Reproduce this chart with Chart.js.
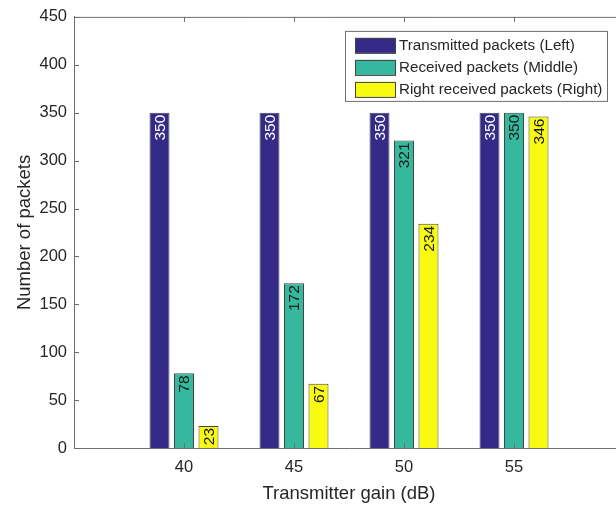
<!DOCTYPE html>
<html lang="en">
<head>
  <meta charset="UTF-8">
  <title>Packets vs transmitter gain</title>
  <script src="https://cdn.jsdelivr.net/npm/chart.js"></script>
  <style>
    html, body {
      margin: 0;
      padding: 0;
      background: #ffffff;
      overflow: hidden;
    }

    /* a bit wider than the window: the right edge of the axes is cut off like in the picture */
    .wrap {
      position: relative;
      width: 624px;
      height: 505px;
    }
  </style>
</head>
<body>

  <div class="wrap">
    <canvas id="packetChart"></canvas>
  </div>

  <script>
    // data
    const gains = [40, 45, 50, 55];
    const transmitted = [350, 350, 350, 350];
    const received = [78, 172, 321, 350];
    const rightReceived = [23, 67, 234, 346];
    const yTicks = [0, 50, 100, 150, 200, 250, 300, 350, 400, 450];

    const seriesNames = ["Transmitted packets (Left)", "Received packets (Middle)", "Right received packets (Right)"];
    const seriesColors = ["#352a87", "#35b89d", "#f8fa0f"];
    const labelColors = ["#ffffff", "#1a1a1a", "#1a1a1a"];

    const txt = "#262626";
    const axisCol = "#6e6e6e";
    const fontFam = "'Liberation Sans', Arial, sans-serif";

    const toPoints = (arr) => arr.map((v, i) => ({ x: gains[i], y: v }));

    // inward tick marks + box top line, matlab style
    const boxTicks = {
      id: "boxTicks",
      afterDraw(chart) {
        const { ctx, chartArea: a, scales } = chart;
        ctx.save();
        ctx.strokeStyle = axisCol;
        ctx.lineWidth = 1;
        ctx.beginPath();
        ctx.moveTo(a.left, a.top + 0.5);
        ctx.lineTo(a.right, a.top + 0.5);
        ctx.moveTo(a.right - 0.5, a.top);
        ctx.lineTo(a.right - 0.5, a.bottom);
        scales.y.ticks.forEach(t => {
          const y = Math.round(scales.y.getPixelForValue(t.value)) + 0.5;
          ctx.moveTo(a.left, y);
          ctx.lineTo(a.left + 5, y);
          ctx.moveTo(a.right, y);
          ctx.lineTo(a.right - 5, y);
        });
        scales.x.ticks.forEach(t => {
          const x = Math.round(scales.x.getPixelForValue(t.value)) + 0.5;
          ctx.moveTo(x, a.bottom);
          ctx.lineTo(x, a.bottom - 5);
          ctx.moveTo(x, a.top);
          ctx.lineTo(x, a.top + 5);
        });
        ctx.stroke();
        ctx.restore();
      }
    };

    // rotated value labels at the top of each bar
    const barValues = {
      id: "barValues",
      afterDatasetsDraw(chart) {
        const { ctx } = chart;
        ctx.save();
        ctx.font = "15.5px " + fontFam;
        ctx.textAlign = "right";
        ctx.textBaseline = "middle";
        chart.data.datasets.forEach((ds, di) => {
          const meta = chart.getDatasetMeta(di);
          ctx.fillStyle = labelColors[di];
          meta.data.forEach((bar, i) => {
            ctx.save();
            ctx.translate(bar.x, bar.y + 2);
            ctx.rotate(-Math.PI / 2);
            ctx.fillText(String(ds.data[i].y), 0, 1);
            ctx.restore();
          });
        });
        ctx.restore();
      }
    };

    // boxed legend in the top right corner
    const boxLegend = {
      id: "boxLegend",
      afterDraw(chart) {
        const { ctx, chartArea: a } = chart;
        const w = 262, rowH = 22;
        const x0 = a.right - 17 - w, y0 = a.top + 14;
        ctx.save();
        ctx.fillStyle = "#ffffff";
        ctx.fillRect(x0, y0, w, rowH * seriesNames.length + 4);
        ctx.strokeStyle = axisCol;
        ctx.lineWidth = 1;
        ctx.strokeRect(x0 + 0.5, y0 + 0.5, w, rowH * seriesNames.length + 4);
        ctx.font = "15.2px " + fontFam;
        ctx.textBaseline = "middle";
        chart.data.datasets.forEach((ds, i) => {
          const cy = y0 + 3 + rowH * i + rowH / 2;
          ctx.fillStyle = ds.backgroundColor;
          ctx.fillRect(x0 + 10, cy - 7, 40, 15);
          ctx.strokeStyle = "#444";
          ctx.strokeRect(x0 + 10.5, cy - 6.5, 40, 15);
          ctx.fillStyle = txt;
          ctx.fillText(ds.label, x0 + 54, cy + 1);
        });
        ctx.restore();
      }
    };

    const makeSet = (i, arr) => ({
      label: seriesNames[i],
      data: toPoints(arr),
      backgroundColor: seriesColors[i],
      borderColor: "#444444",
      borderWidth: 1,
      categoryPercentage: 0.668,
      barPercentage: 0.816
    });

    new Chart(document.getElementById("packetChart"), {
      type: "bar",
      data: {
        datasets: [
          makeSet(0, transmitted),
          makeSet(1, received),
          makeSet(2, rightReceived)
        ]
      },
      options: {
        responsive: true,
        maintainAspectRatio: false,
        animation: false,
        layout: { padding: { top: 13, right: 0, left: 0, bottom: 0 } },
        plugins: {
          legend: { display: false },
          tooltip: { enabled: false }
        },
        scales: {
          x: {
            type: "linear",
            min: 35,
            max: 60,
            offset: false,
            afterBuildTicks: (s) => { s.ticks = gains.map(v => ({ value: v })); },
            afterFit: (s) => { s.height = 57; },
            grid: { display: false, drawTicks: false, offset: false },
            border: { display: true, color: axisCol, width: 1 },
            ticks: {
              color: txt,
              padding: 10,
              font: { family: fontFam, size: 16.5 },
              callback: (v) => String(v)
            },
            title: {
              display: true,
              text: "Transmitter gain (dB)",
              color: txt,
              padding: { top: 2, bottom: 0 },
              font: { family: fontFam, size: 18.5 }
            }
          },
          y: {
            min: 0,
            max: 450,
            afterBuildTicks: (s) => { s.ticks = yTicks.map(v => ({ value: v })); },
            afterFit: (s) => { s.width = 74; },
            grid: { display: false, drawTicks: false },
            border: { display: true, color: axisCol, width: 1 },
            ticks: {
              color: txt,
              padding: 7,
              font: { family: fontFam, size: 16.5 }
            },
            title: {
              display: true,
              text: "Number of packets",
              color: txt,
              padding: { top: 14, bottom: 0 },
              font: { family: fontFam, size: 18.5 }
            }
          }
        }
      },
      plugins: [boxTicks, barValues, boxLegend]
    });
  </script>
</body>
</html>
